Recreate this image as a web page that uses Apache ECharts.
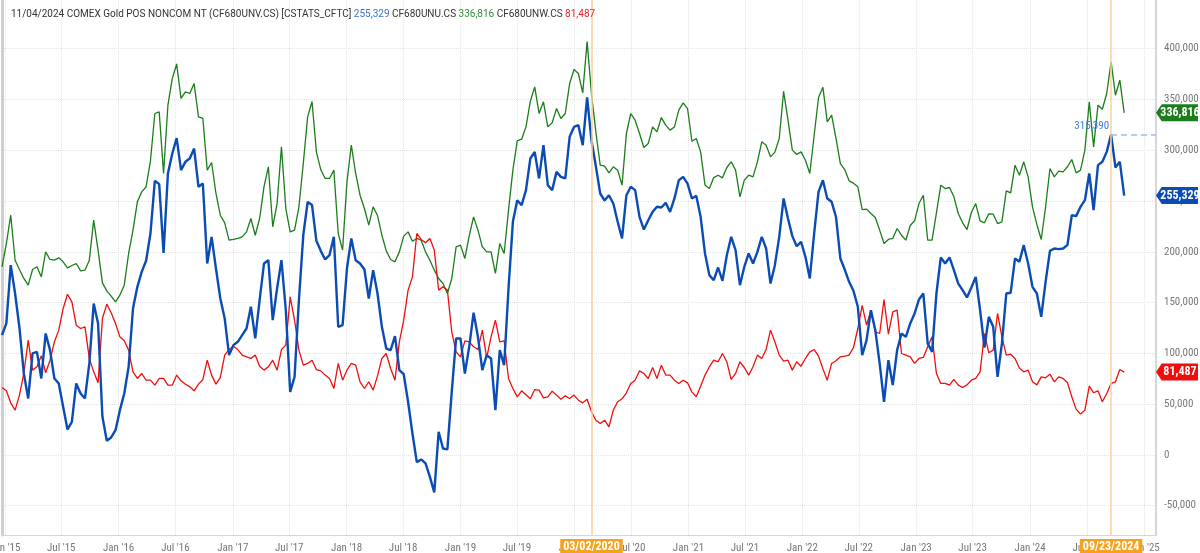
<!DOCTYPE html>
<html>
<head>
<meta charset="utf-8">
<script src="https://cdn.jsdelivr.net/npm/echarts@6/dist/echarts.min.js"></script>
<style>
  html, body { margin: 0; padding: 0; background: #fff; }
  #main { width: 1200px; height: 553px; }
</style>
</head>
<body>
<div id="main"></div>
<script>
// weekly COT data, sampled every 2 weeks (Tuesday report dates)
const firstDate = [2014, 11, 23];
const stepDays = 14;
const axisStart = [2014, 11, 23];
const axisEnd = [2025, 1, 8];
const yMin = -79000;
const yMax = 448000;

const headerDate = '11/04/2024';
const headerName = 'COMEX Gold POS NONCOM NT (CF680UNV.CS) [CSTATS_CFTC]';
const netName = 'CF680UNV.CS';
const longName = 'CF680UNU.CS';
const shortName = 'CF680UNW.CS';

// net position (blue)
const netVals = [
  117900, 129400, 186800, 158900, 125100, 80100, 55500, 99800, 101400, 75200,
  119500, 103100, 75200, 70300, 47300, 25000, 32500, 70300, 60400, 55500,
  90000, 149000, 129400, 37400, 13800, 17100, 24300, 44000, 60400, 86700,
  144100, 165500, 180200, 191100, 218000, 269900, 266600, 198900, 277100, 296800,
  311900, 280400, 288600, 291900, 301700, 264000, 267200, 188400, 214700, 183500,
  154000, 134300, 98200, 108000, 111300, 117900, 124400, 145800, 114600, 152300,
  188400, 191700, 132600, 163800, 191700, 142500, 62000, 76800, 152300, 216300,
  249000, 246000, 210800, 200900, 192400, 196600, 214700, 126100, 127700, 183500,
  213100, 191700, 188400, 182500, 154000, 181900, 158900, 126100, 104700, 103100,
  116900, 83400, 79400, 52200, 21000, -7200, -4600, -8500, -21700, -37000,
  22700, 6200, 5300, 62000, 114600, 114600, 80100, 106400, 140000, 116200,
  83400, 98200, 94900, 44000, 103100, 88300, 163800, 229500, 250800, 245900,
  260700, 291900, 298400, 272200, 305000, 265600, 260700, 278700, 273800, 272200,
  313200, 323000, 324700, 305000, 352000, 309900, 284300, 257400, 250500, 255700,
  247500, 229500, 213100, 255700, 264000, 260700, 234400, 221900, 231100, 239300,
  244300, 243600, 248200, 239300, 252500, 270500, 273800, 267200, 252500, 255100,
  234400, 198300, 177000, 172000, 184500, 171400, 196600, 214700, 201600, 167100,
  185200, 198300, 188400, 199900, 214700, 203200, 168700, 186800, 214700, 252500,
  232800, 215400, 205500, 209800, 195000, 173700, 218000, 259000, 270500, 252500,
  249200, 234400, 193400, 182500, 170400, 161500, 145800, 98200, 112900, 142500,
  122800, 90000, 52200, 93200, 68600, 103100, 119500, 116200, 129400, 139200,
  153000, 158900, 109700, 101400, 158900, 194400, 188400, 194400, 181900, 168700,
  162200, 155000, 164800, 175300, 142500, 105700, 135900, 126100, 76800, 109700,
  158900, 159600, 193400, 190100, 206500, 188400, 165500, 158900, 135900, 170400,
  200900, 203200, 202600, 203200, 206500, 236000, 235100, 244300, 250800, 277100,
  241000, 285300, 288600, 298400, 315390, 283000, 288600, 255329
];

// long (green)
const longVals = [
  185200, 208100, 236000, 191700, 182500, 173700, 167100, 182500, 185200, 175300,
  199900, 192400, 191700, 194000, 190100, 184200, 186500, 188400, 181200, 181900,
  191700, 231100, 201600, 169400, 161500, 156300, 150700, 157300, 167100, 198300,
  221300, 249200, 259000, 264000, 289600, 336200, 337800, 277100, 344400, 370700,
  385000, 351000, 357500, 355900, 365700, 332900, 331300, 280400, 287900, 257400,
  236000, 228500, 211400, 212100, 213100, 214700, 219600, 232800, 216300, 232800,
  264000, 283700, 224600, 247500, 303300, 242600, 219600, 221300, 244300, 286900,
  332900, 348000, 298400, 281000, 272200, 272200, 280400, 218000, 201600, 268900,
  305000, 277100, 255700, 242600, 226200, 244300, 235700, 216300, 200900, 192400,
  190100, 199900, 215400, 219600, 210400, 213100, 211400, 199900, 191700, 181900,
  173700, 168700, 158900, 173700, 204900, 206500, 193400, 215700, 234400, 221300,
  204900, 199900, 199900, 178600, 208100, 198300, 241000, 280400, 309300, 310900,
  323000, 348300, 362400, 336200, 347700, 323000, 327000, 341100, 331300, 336200,
  365700, 379500, 375600, 356500, 407000, 355900, 318100, 285300, 284300, 277700,
  283700, 280400, 265600, 316500, 336200, 329600, 316500, 302700, 306600, 323000,
  318100, 332200, 324700, 319800, 323000, 339500, 346700, 341100, 308900, 311600,
  298400, 265600, 262300, 273100, 275400, 272800, 283000, 288600, 280400, 254100,
  270500, 275400, 273800, 288600, 308300, 305000, 293500, 298100, 311600, 358000,
  330000, 300100, 295800, 298400, 290200, 277100, 314800, 352000, 362000, 328000,
  334500, 311600, 286900, 281000, 269900, 267600, 264000, 241600, 242000, 237700,
  233700, 221300, 208100, 212100, 213100, 222900, 216300, 211400, 225900, 230500,
  247500, 255700, 211400, 211400, 238300, 265600, 262300, 263300, 254100, 237700,
  228500, 221900, 238700, 247500, 230500, 228500, 237400, 237000, 227800, 229500,
  260000, 258000, 285300, 275400, 288600, 273800, 244300, 226900, 212100, 244300,
  282000, 273800, 279400, 278700, 283700, 290900, 277700, 280400, 300100, 347700,
  303300, 344400, 340400, 355900, 387100, 354200, 369000, 336816
];

// short (red)
const shortVals = [
  66300, 63000, 51200, 44000, 58800, 80100, 112900, 83400, 86700, 97500,
  80800, 93200, 111300, 122800, 144100, 158200, 150700, 127700, 124400, 126100,
  94900, 81700, 70900, 134300, 148400, 139900, 129400, 116200, 112300, 103100,
  81700, 75200, 80100, 73500, 73500, 68600, 75200, 75200, 68600, 68600,
  78500, 72900, 69600, 67000, 63000, 69600, 74200, 93200, 78500, 69600,
  76200, 98200, 103700, 107000, 103700, 98200, 96500, 94900, 98200, 87300,
  83400, 86700, 93200, 83400, 103700, 108000, 155600, 132600, 103100, 88300,
  90000, 93200, 84000, 82700, 78500, 75200, 65300, 90000, 73500, 83400,
  90000, 88300, 71900, 65300, 71900, 63700, 77800, 94900, 99800, 85000,
  73500, 111300, 132600, 162200, 175300, 218000, 212100, 208800, 213100, 201600,
  162200, 165500, 162200, 121100, 101400, 96500, 112300, 111300, 106400, 103700,
  122800, 95500, 116200, 132600, 111300, 112300, 75200, 65300, 57100, 63000,
  59100, 55200, 64300, 63700, 56100, 57100, 62700, 58800, 54800, 58100,
  55500, 58800, 53800, 51200, 54800, 42400, 34100, 30900, 34100, 27600,
  44000, 52200, 55200, 61100, 70300, 73500, 82700, 80100, 75200, 86000,
  75200, 88300, 78500, 78500, 73500, 70300, 73500, 70900, 62000, 57100,
  67600, 78500, 86700, 93200, 91600, 99800, 91600, 74200, 80100, 91600,
  86000, 78500, 86700, 98200, 94900, 103700, 122800, 111300, 98200, 92300,
  93200, 83400, 91600, 87300, 94900, 101400, 103700, 97200, 84700, 73500,
  90000, 92600, 96500, 97200, 98200, 105700, 124400, 147100, 127700, 142500,
  121100, 119500, 153000, 118800, 140800, 142500, 99800, 98200, 96500, 90000,
  94900, 95900, 106400, 116200, 80100, 70300, 70300, 68600, 74200, 68600,
  66300, 68900, 73500, 75200, 81700, 119500, 100500, 103100, 139200, 116200,
  98200, 99100, 94900, 85400, 81700, 83400, 71900, 68900, 76800, 75800,
  79400, 71900, 76800, 75200, 71200, 57100, 45000, 40100, 44000, 67600,
  61100, 63000, 52200, 60400, 70300, 71900, 84000, 81487
];

// highlighted weeks (vertical markers) and their labels
const markerDates = [[2020, 1, 25], [2024, 8, 17]];
const markerLabels = ['03/02/2020', '09/23/2024'];
const peakDate = [2024, 8, 17];
const peakValue = 315390;

const colors = { net: '#0b4cb4', long: '#1b7d1b', short: '#f20d0d' };

function toDate(a) {
  return new Date(a[0], a[1], a[2]);
}

function fmtNum(v) {
  return String(Math.round(v)).replace(/\B(?=(\d{3})+(?!\d))/g, ',');
}

function toPairs(vals) {
  return vals.map((v, i) => [new Date(firstDate[0], firstDate[1], firstDate[2] + i * stepDays), v]);
}

const monthNames = ['Jan', 'Feb', 'Mar', 'Apr', 'May', 'Jun', 'Jul', 'Aug', 'Sep', 'Oct', 'Nov', 'Dec'];

function fmtDate(value) {
  const d = new Date(value);
  return monthNames[d.getMonth()] + " '" + String(d.getFullYear()).slice(2);
}

const font = "'Liberation Sans Narrow', 'Roboto Condensed', Roboto, sans-serif";
const titleFont = 'Roboto, sans-serif';

const tagPath = 'path://M0,8 L6,0 L44,0 L44,16 L6,16 Z';

function lastTag(vals, color) {
  const last = vals[vals.length - 1];
  return {
    silent: true,
    animation: false,
    symbol: tagPath,
    symbolSize: [42, 17],
    symbolOffset: [21, 0],
    itemStyle: { color: color },
    label: {
      show: true,
      position: 'inside',
      offset: [3, 0],
      color: '#fff',
      fontWeight: 'bold',
      fontSize: 12,
      fontFamily: font,
      formatter: () => fmtNum(last)
    },
    data: [{ coord: [toDate(axisEnd), last], value: last }]
  };
}

const chart = echarts.init(document.getElementById('main'));

const option = {
  animation: false,
  backgroundColor: '#fff',
  title: {
    left: 6,
    top: 4,
    text: '{a|' + headerDate + ' ' + headerName + '} {b|' + fmtNum(netVals[netVals.length - 1]) +
      '} {a|' + longName + '} {g|' + fmtNum(longVals[longVals.length - 1]) +
      '} {a|' + shortName + '} {r|' + fmtNum(shortVals[shortVals.length - 1]) + '}',
    textStyle: {
      fontSize: 10,
      fontWeight: 'normal',
      fontFamily: titleFont,
      rich: {
        a: { color: '#333', fontSize: 10, fontFamily: titleFont },
        b: { color: '#3a74c9', fontSize: 10, fontFamily: titleFont },
        g: { color: '#2f8f3a', fontSize: 10, fontFamily: titleFont },
        r: { color: '#e5232b', fontSize: 10, fontFamily: titleFont }
      }
    }
  },
  grid: { left: 2, right: 44, top: 0, bottom: 18, containLabel: false, outerBoundsMode: 'none' },
  xAxis: {
    type: 'time',
    min: toDate(axisStart),
    max: toDate(axisEnd),
    splitNumber: 20,
    minInterval: 150 * 86400000,
    maxInterval: 200 * 86400000,
    axisLine: { onZero: false, lineStyle: { color: '#d6d6d6' } },
    axisTick: { show: false },
    axisLabel: {
      color: '#777',
      fontSize: 11,
      fontFamily: font,
      margin: 8,
      hideOverlap: false,
      formatter: fmtDate
    },
    splitLine: { show: true, lineStyle: { color: '#e4e4e4', type: 'dotted' } }
  },
  yAxis: [{
    type: 'value',
    position: 'right',
    min: yMin,
    max: yMax,
    splitNumber: 10,
    axisLine: { show: true, lineStyle: { color: '#d6d6d6', width: 2 } },
    axisTick: { show: false },
    axisLabel: {
      color: '#777',
      fontSize: 11,
      fontFamily: font,
      margin: 8,
      showMinLabel: false,
      showMaxLabel: false,
      formatter: fmtNum
    },
    splitLine: {
      show: true,
      showMinLine: false,
      showMaxLine: false,
      lineStyle: { color: '#e4e4e4', type: 'dotted' }
    }
  }, {
    // left frame
    type: 'value',
    position: 'left',
    min: yMin,
    max: yMax,
    axisLine: { show: true, lineStyle: { color: '#cfcfcf', width: 3 } },
    axisTick: { show: false },
    axisLabel: { show: false },
    splitLine: { show: false }
  }],
  series: [
    {
      name: longName,
      type: 'line',
      data: toPairs(longVals),
      symbol: 'none',
      clip: false,
      lineStyle: { color: colors.long, width: 1.3 },
      itemStyle: { color: colors.long },
      markPoint: lastTag(longVals, colors.long)
    },
    {
      name: shortName,
      type: 'line',
      data: toPairs(shortVals),
      symbol: 'none',
      clip: false,
      lineStyle: { color: colors.short, width: 1.3 },
      itemStyle: { color: colors.short },
      markPoint: lastTag(shortVals, colors.short),
      markLine: {
        silent: true,
        animation: false,
        symbol: ['none', 'none'],
        lineStyle: { color: '#fbd09a', width: 1.5, type: 'solid' },
        label: {
          show: true,
          position: 'start',
          distance: 4,
          color: '#fff',
          backgroundColor: '#f7a21c',
          fontWeight: 'bold',
          fontSize: 12,
          fontFamily: font,
          padding: [2, 3, 1, 3],
          formatter: p => markerLabels[p.dataIndex]
        },
        data: markerDates.map(d => ({ xAxis: toDate(d) }))
      }
    },
    {
      name: netName,
      type: 'line',
      data: toPairs(netVals),
      symbol: 'none',
      clip: false,
      lineStyle: { color: colors.net, width: 2.4 },
      itemStyle: { color: colors.net },
      markPoint: lastTag(netVals, colors.net),
      markLine: {
        silent: true,
        animation: false,
        symbol: ['none', 'none'],
        lineStyle: { color: '#9dbbea', width: 1.5, type: [6, 4] },
        label: {
          show: true,
          position: 'start',
          distance: 2,
          offset: [0, -8],
          color: '#3b7bd6',
          fontSize: 11,
          fontFamily: font,
          formatter: () => fmtNum(peakValue)
        },
        data: [[
          { coord: [toDate(peakDate), peakValue] },
          { coord: [toDate(axisEnd), peakValue] }
        ]]
      }
    }
  ]
};

chart.setOption(option);
</script>
</body>
</html>
